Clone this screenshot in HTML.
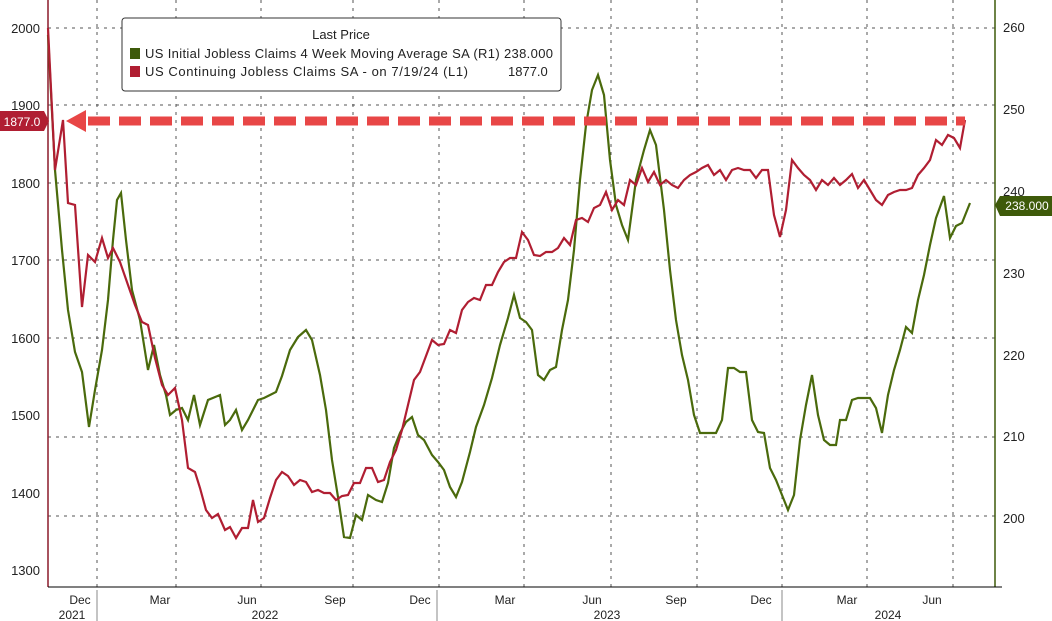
<!DOCTYPE html><html><head><style>body{margin:0;background:#fff}svg{display:block;font-family:"Liberation Sans",sans-serif}</style></head><body>
<svg width="1052" height="621" viewBox="0 0 1052 621">
<g stroke="#555" stroke-width="1" stroke-dasharray="3,5">
<line x1="48" y1="28" x2="995" y2="28"/><line x1="48" y1="105" x2="995" y2="105"/><line x1="48" y1="183" x2="995" y2="183"/><line x1="48" y1="260" x2="995" y2="260"/><line x1="48" y1="338" x2="995" y2="338"/><line x1="48" y1="437" x2="995" y2="437"/><line x1="48" y1="516" x2="995" y2="516"/>
<line x1="97" y1="0" x2="97" y2="587"/><line x1="176" y1="0" x2="176" y2="587"/><line x1="261" y1="0" x2="261" y2="587"/><line x1="353" y1="0" x2="353" y2="587"/><line x1="439" y1="0" x2="439" y2="587"/><line x1="524" y1="0" x2="524" y2="587"/><line x1="611" y1="0" x2="611" y2="587"/><line x1="697" y1="0" x2="697" y2="587"/><line x1="782" y1="0" x2="782" y2="587"/><line x1="867" y1="0" x2="867" y2="587"/><line x1="953" y1="0" x2="953" y2="587"/>
</g>
<line x1="48" y1="0" x2="48" y2="587" stroke="#8b1a2a" stroke-width="1.5"/>
<line x1="995" y1="0" x2="995" y2="587" stroke="#3e5a0a" stroke-width="1.5"/>
<line x1="48" y1="587" x2="1002" y2="587" stroke="#000"/>
<g font-size="13" fill="#222" text-anchor="end">
<text x="40" y="33">2000</text><text x="40" y="110">1900</text><text x="40" y="188">1800</text><text x="40" y="265">1700</text><text x="40" y="343">1600</text><text x="40" y="420">1500</text><text x="40" y="498">1400</text><text x="40" y="575">1300</text></g>
<g font-size="13" fill="#222">
<text x="1003" y="32">260</text><text x="1003" y="114">250</text><text x="1003" y="196">240</text><text x="1003" y="278">230</text><text x="1003" y="360">220</text><text x="1003" y="441">210</text><text x="1003" y="523">200</text></g>
<g font-size="12" fill="#222" text-anchor="middle">
<text x="80" y="604">Dec</text><text x="160" y="604">Mar</text><text x="247" y="604">Jun</text><text x="335" y="604">Sep</text><text x="420" y="604">Dec</text><text x="505" y="604">Mar</text><text x="592" y="604">Jun</text><text x="676" y="604">Sep</text><text x="761" y="604">Dec</text><text x="847" y="604">Mar</text><text x="932" y="604">Jun</text>
<text x="72" y="619">2021</text><text x="265" y="619">2022</text><text x="607" y="619">2023</text><text x="888" y="619">2024</text></g>
<g stroke="#888"><line x1="97" y1="590" x2="97" y2="621"/><line x1="437" y1="590" x2="437" y2="621"/><line x1="782" y1="590" x2="782" y2="621"/></g>
<polyline fill="none" stroke="#4a6a0c" stroke-width="2.2" points="48,35 55,170 62,250 68,310 75,352 82,372 89,427 95,390 102,350 108,300 113,240 117,200 121,193 126,240 132,290 140,320 148,370 154,345 160,375 166,395 170,415 176,410 182,408 188,420 194,395 200,425 208,400 220,395 225,425 230,420 236,410 242,430 248,420 258,400 264,398 270,395 276,392 282,376 290,350 298,337 306,330 312,340 320,375 326,410 332,460 338,497 344,537 350,538 356,515 362,520 368,495 376,500 382,502 388,483 394,448 400,433 406,422 412,417 418,435 424,440 432,455 438,462 444,470 450,487 456,497 462,482 470,452 476,427 484,405 492,378 500,345 508,318 514,295 520,318 526,322 532,330 538,375 544,380 550,370 556,367 562,330 568,300 574,250 580,180 586,125 592,90 598,75 604,95 610,160 616,205 622,225 628,240 636,180 644,150 650,130 656,145 664,210 670,270 676,320 682,355 688,380 694,415 700,433 708,433 716,433 722,420 728,368 734,368 740,372 746,372 752,420 758,432 764,433 770,468 776,480 782,495 788,510 794,495 800,440 806,405 812,375 818,415 824,440 830,445 836,445 840,420 846,420 852,400 858,398 864,398 870,398 876,408 882,433 888,395 894,370 900,350 906,327 912,333 918,300 924,275 930,245 936,218 944,196 950,238 956,226 962,223 970,203"/>
<polyline fill="none" stroke="#b01e32" stroke-width="2.2" points="48,28 55,170 63,120 68,203 75,205 82,307 88,255 95,262 102,238 108,258 113,248 120,262 128,285 135,305 142,322 148,325 155,358 162,385 168,395 175,388 182,420 188,468 195,472 200,488 206,510 212,518 218,514 225,530 230,527 236,538 242,528 248,528 253,500 258,522 264,518 270,498 276,480 282,472 288,476 294,485 300,480 306,482 312,492 318,490 324,493 330,493 336,500 342,496 348,495 354,483 360,483 366,468 372,468 378,482 384,480 390,462 396,450 402,430 408,405 414,380 420,372 426,356 432,340 438,345 444,344 450,330 456,333 462,310 468,302 474,298 480,300 486,285 492,285 498,272 504,262 510,258 516,258 522,232 528,240 534,255 540,256 546,252 552,252 558,248 564,238 570,245 576,220 582,218 588,222 594,208 600,205 606,192 612,210 618,200 624,205 630,180 636,185 642,168 648,182 654,172 660,185 666,180 672,185 678,188 684,180 690,175 696,172 702,168 708,165 714,175 720,170 726,180 732,170 738,168 744,170 750,170 756,178 762,170 768,170 774,215 780,237 786,210 792,160 798,168 804,175 810,180 816,190 822,180 828,185 834,178 840,185 846,180 852,174 858,188 864,180 870,190 876,200 882,205 888,195 894,192 900,190 906,190 912,188 918,175 924,168 930,160 936,140 942,145 948,135 954,138 960,148 965,120"/>
<line x1="88" y1="121" x2="965" y2="121" stroke="#e84646" stroke-width="9" stroke-dasharray="22,9"/>
<polygon points="66,121 86,110 86,132" fill="#e84646"/>
<polygon points="0,111 44,111 49,121 44,131 0,131" fill="#b01e32"/>
<text x="22" y="126" font-size="12" fill="#fff" text-anchor="middle">1877.0</text>
<polygon points="995,205 1000,196 1052,196 1052,216 1000,216" fill="#3e5a0a"/>
<text x="1027" y="210" font-size="12" fill="#fff" text-anchor="middle">238.000</text>
<rect x="122" y="18" width="439" height="73" rx="3" fill="#fff" stroke="#333"/>
<text x="341" y="39" font-size="13" text-anchor="middle" fill="#222">Last Price</text>
<rect x="130" y="48" width="10" height="11" fill="#3e5a0a"/><rect x="130" y="66" width="10" height="11" fill="#b01e32"/>
<text x="145" y="58" font-size="13" fill="#222" textLength="408">US Initial Jobless Claims 4 Week Moving Average SA  (R1) 238.000</text>
<text x="145" y="76" font-size="13" fill="#222" textLength="323">US Continuing Jobless Claims SA -  on 7/19/24  (L1)</text>
<text x="508" y="76" font-size="13" fill="#222">1877.0</text>
</svg></body></html>
